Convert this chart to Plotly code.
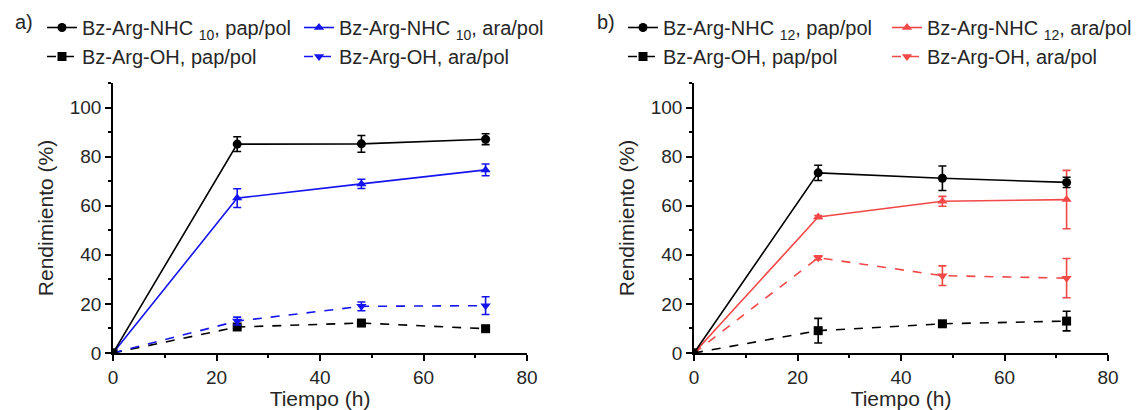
import plotly.graph_objects as go

time_h = [0, 24, 48, 72]

# Panel a)
a_nhc10_pap = [0, 85.1, 85.2, 87.1]
a_nhc10_pap_err = [0, 3.0, 3.4, 2.2]
a_nhc10_ara = [0, 63.1, 68.9, 74.6]
a_nhc10_ara_err = [0, 3.8, 1.9, 2.4]
a_oh_pap = [0, 10.6, 12.2, 9.9]
a_oh_pap_err = [0, 0.8, 0.8, 0.8]
a_oh_ara = [0, 13.0, 19.0, 19.3]
a_oh_ara_err = [0, 1.6, 1.8, 3.6]

# Panel b)
b_nhc12_pap = [0, 73.4, 71.2, 69.5]
b_nhc12_pap_err = [0, 3.1, 5.0, 2.1]
b_nhc12_ara = [0, 55.4, 61.8, 62.5]
b_nhc12_ara_err = [0, 0.6, 2.0, 11.9]
b_oh_pap = [0, 9.1, 11.9, 13.0]
b_oh_pap_err = [0, 5.0, 0.8, 4.0]
b_oh_ara = [0, 38.8, 31.5, 30.5]
b_oh_ara_err = [0, 0.8, 4.0, 8.0]

BLACK = "#000000"
BLUE = "#1414f0"
RED = "#f24848"
TXT = "#262626"
FONT = "Liberation Sans, Arial, sans-serif"

fig = go.Figure()


def add(x, y, err, name, color, symbol, dash, xa, ya, legend, size=9):
    fig.add_trace(go.Scatter(
        x=x, y=y, name=name, mode="lines+markers",
        line=dict(color=color, width=1.6, dash=dash),
        marker=dict(color=color, symbol=symbol, size=size),
        error_y=dict(type="data", array=err, visible=True, color=color,
                     thickness=1.6, width=4),
        xaxis=xa, yaxis=ya, legend=legend,
    ))


add(time_h, a_oh_pap, a_oh_pap_err, "Bz-Arg-OH, pap/pol", BLACK, "square", "dash", "x", "y", "legend", 9)
add(time_h, a_oh_ara, a_oh_ara_err, "Bz-Arg-OH, ara/pol", BLUE, "triangle-down", "dash", "x", "y", "legend2", 9)
add(time_h, a_nhc10_ara, a_nhc10_ara_err, "Bz-Arg-NHC <sub>10</sub>, ara/pol", BLUE, "triangle-up", "solid", "x", "y", "legend2", 9)
add(time_h, a_nhc10_pap, a_nhc10_pap_err, "Bz-Arg-NHC <sub>10</sub>, pap/pol", BLACK, "circle", "solid", "x", "y", "legend", 9)

add(time_h, b_oh_pap, b_oh_pap_err, "Bz-Arg-OH, pap/pol", BLACK, "square", "dash", "x2", "y2", "legend3", 9)
add(time_h, b_oh_ara, b_oh_ara_err, "Bz-Arg-OH, ara/pol", RED, "triangle-down", "dash", "x2", "y2", "legend4", 9)
add(time_h, b_nhc12_ara, b_nhc12_ara_err, "Bz-Arg-NHC <sub>12</sub>, ara/pol", RED, "triangle-up", "solid", "x2", "y2", "legend4", 9)
add(time_h, b_nhc12_pap, b_nhc12_pap_err, "Bz-Arg-NHC <sub>12</sub>, pap/pol", BLACK, "circle", "solid", "x2", "y2", "legend3", 9)

axis_common = dict(
    showline=True, linecolor="black", linewidth=1.5, ticks="outside",
    ticklen=6, tickwidth=1.5, tickcolor="black", showgrid=False, zeroline=False,
    automargin=False,
    tickfont=dict(family=FONT, size=19, color=TXT),
    minor=dict(ticks="outside", ticklen=3, tickwidth=1.5, tickcolor="black", showgrid=False),
)
xcommon = dict(axis_common, range=[0, 80], dtick=20, tick0=0,
               title=dict(text="Tiempo (h)", font=dict(family=FONT, size=21, color=TXT), standoff=8))
xcommon["minor"] = dict(axis_common["minor"], dtick=10)
ycommon = dict(axis_common, range=[0, 110], tickvals=[0, 20, 40, 60, 80, 100],
               title=dict(text="Rendimiento (%)", font=dict(family=FONT, size=21, color=TXT), standoff=10))
ycommon["minor"] = dict(axis_common["minor"], tickvals=[10, 30, 50, 70, 90, 110])

ydom = [57 / 410, 327 / 410]
fig.update_layout(
    xaxis=dict(xcommon, domain=[113 / 1140, 527 / 1140], anchor="y"),
    yaxis=dict(ycommon, domain=ydom, anchor="x"),
    xaxis2=dict(xcommon, domain=[694 / 1140, 1108 / 1140], anchor="y2"),
    yaxis2=dict(ycommon, domain=ydom, anchor="x2"),
)

leg_common = dict(
    orientation="v", xanchor="left", yanchor="top", yref="paper", xref="paper",
    font=dict(family=FONT, size=20, color=TXT), bgcolor="rgba(0,0,0,0)",
    itemwidth=30, tracegroupgap=0, traceorder="reversed",
)
ytop = 1 - 8 / 410
fig.update_layout(
    legend=dict(leg_common, x=42 / 1140, y=ytop),
    legend2=dict(leg_common, x=299 / 1140, y=ytop),
    legend3=dict(leg_common, x=623 / 1140, y=ytop),
    legend4=dict(leg_common, x=887 / 1140, y=ytop),
)

fig.add_annotation(text="a)", x=13 / 1140, y=1 - 22 / 410, xref="paper", yref="paper",
                   xanchor="left", yanchor="middle", showarrow=False,
                   font=dict(family=FONT, size=20, color=TXT))
fig.add_annotation(text="b)", x=595 / 1140, y=1 - 22 / 410, xref="paper", yref="paper",
                   xanchor="left", yanchor="middle", showarrow=False,
                   font=dict(family=FONT, size=20, color=TXT))

fig.update_layout(
    width=1140, height=410, margin=dict(l=0, r=0, t=0, b=0),
    paper_bgcolor="white", plot_bgcolor="white", showlegend=True,
)

fig.write_html("out.html")
